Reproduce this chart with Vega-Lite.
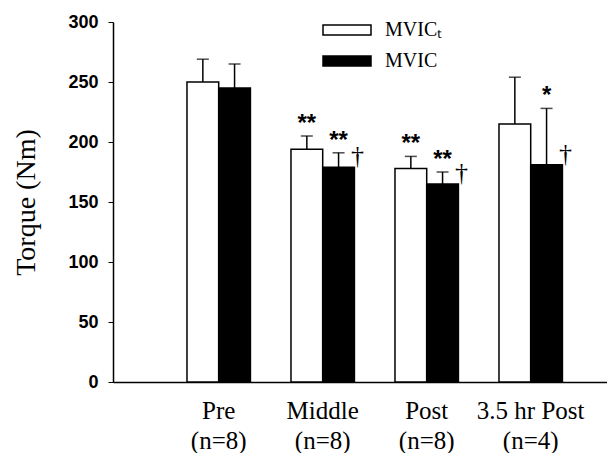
{
  "$schema": "https://vega.github.io/schema/vega-lite/v6.json",
  "autosize": "none",
  "width": 494,
  "height": 360,
  "padding": {"left": 113, "top": 22, "right": 0, "bottom": 71},
  "background": "white",
  "config": {
    "view": {"stroke": null},
    "axis": {"grid": false, "domainColor": "black", "tickColor": "black", "labelColor": "black", "titleColor": "black"}
  },
  "data": {
    "values": [
      {"time": "Pre (n=8)", "measure": "MVICt", "value": 250, "upper": 269, "star": "", "dagger": ""},
      {"time": "Pre (n=8)", "measure": "MVIC", "value": 245, "upper": 265, "star": "", "dagger": ""},
      {"time": "Middle (n=8)", "measure": "MVICt", "value": 194, "upper": 205, "star": "**", "dagger": ""},
      {"time": "Middle (n=8)", "measure": "MVIC", "value": 179, "upper": 191, "star": "**", "dagger": "†"},
      {"time": "Post (n=8)", "measure": "MVICt", "value": 178, "upper": 188, "star": "**", "dagger": ""},
      {"time": "Post (n=8)", "measure": "MVIC", "value": 165, "upper": 175, "star": "**", "dagger": "†"},
      {"time": "3.5 hr Post (n=4)", "measure": "MVICt", "value": 215, "upper": 254, "star": "", "dagger": ""},
      {"time": "3.5 hr Post (n=4)", "measure": "MVIC", "value": 181, "upper": 228, "star": "*", "dagger": "†"}
    ]
  },
  "encoding": {
    "x": {
      "field": "time", "type": "nominal", "sort": null,
      "scale": {"paddingInner": 0.39, "paddingOuter": 0.57, "align": 0.624},
      "axis": {
        "title": null, "labelAngle": 0, "ticks": false, "domainWidth": 1.5,
        "labelFont": "Liberation Serif", "labelFontSize": 25, "labelPadding": 16,
        "labelBaseline": "top", "labelLineHeight": 30,
        "labelExpr": "split(replace(datum.label, ' (', '|('), '|')"
      }
    },
    "xOffset": {"field": "measure", "type": "nominal", "sort": ["MVICt", "MVIC"], "scale": {"paddingInner": 0, "paddingOuter": 0}}
  },
  "layer": [
    {
      "mark": {"type": "rule", "color": "black", "strokeWidth": 1.5},
      "encoding": {
        "y": {"field": "value", "type": "quantitative"},
        "y2": {"field": "upper"}
      }
    },
    {
      "mark": {"type": "tick", "color": "black", "size": 12, "thickness": 1.5, "orient": "horizontal"},
      "encoding": {
        "y": {"field": "upper", "type": "quantitative"}
      }
    },
    {
      "mark": {"type": "bar", "stroke": "black", "strokeWidth": 1.5},
      "encoding": {
        "y": {
          "field": "value", "type": "quantitative",
          "scale": {"domain": [0, 300], "nice": false},
          "axis": {
            "title": "Torque (Nm)", "values": [0, 50, 100, 150, 200, 250, 300],
            "tickSize": 5, "labelPadding": 10, "domainWidth": 1.5,
            "labelFont": "Liberation Sans", "labelFontSize": 18, "labelFontWeight": "bold",
            "titleFont": "Liberation Serif", "titleFontSize": 28, "titleFontWeight": "normal",
            "titlePadding": 27
          }
        },
        "fill": {
          "field": "measure", "type": "nominal",
          "scale": {"domain": ["MVICt", "MVIC"], "range": ["white", "black"]},
          "legend": {
            "title": null, "orient": "none", "legendX": 223, "legendY": -3,
            "padding": 0, "rowPadding": 10,
            "symbolType": "M-2.4,-0.5H2.4V0.5H-2.4Z", "symbolSize": 400,
            "symbolStrokeColor": "black", "symbolStrokeWidth": 1.5,
            "labelFont": "Liberation Serif", "labelFontSize": 20, "labelColor": "black",
            "labelOffset": 27,
            "labelExpr": "datum.label == 'MVICt' ? 'MVICₜ' : datum.label"
          }
        }
      }
    },
    {
      "mark": {"type": "text", "font": "Liberation Sans", "fontWeight": "bold", "fontSize": 24, "baseline": "alphabetic", "dy": -5, "color": "black"},
      "encoding": {
        "y": {"field": "upper", "type": "quantitative"},
        "text": {"field": "star"}
      }
    },
    {
      "mark": {"type": "text", "font": "Liberation Serif", "fontSize": 26, "baseline": "alphabetic", "dy": -3, "dx": 19, "color": "black"},
      "encoding": {
        "y": {"field": "value", "type": "quantitative"},
        "text": {"field": "dagger"}
      }
    }
  ]
}
